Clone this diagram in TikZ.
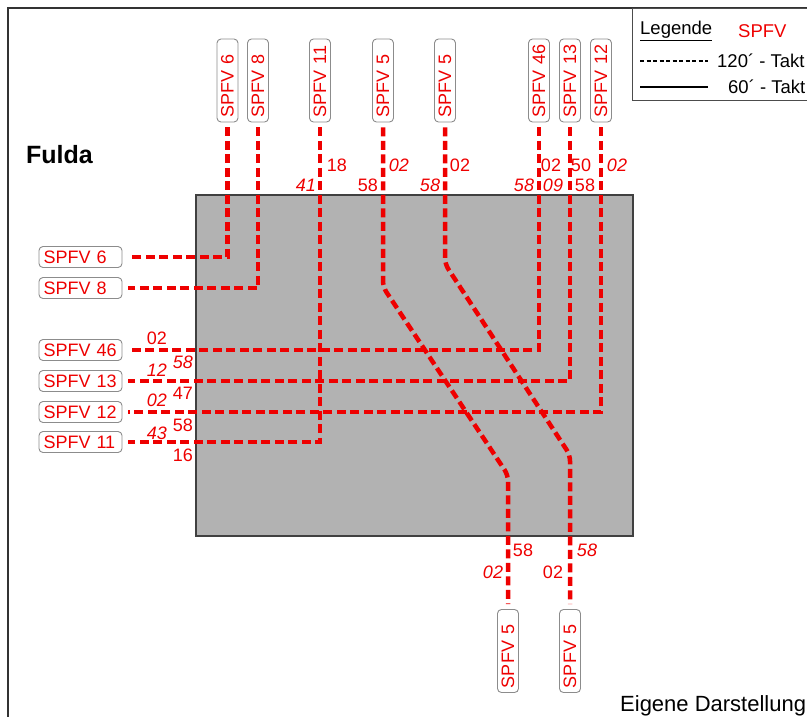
\documentclass[tikz,border=0pt]{standalone}
\usepackage{fontspec}
\setmainfont{Liberation Sans}
\definecolor{spred}{RGB}{238,0,0}
\definecolor{boxgrey}{RGB}{178,178,178}
\begin{document}
\begin{tikzpicture}[x=1pt,y=-1pt,
  lbl/.style={draw=black!45, line width=0.9pt, fill=white, rounded corners=4pt, minimum height=21pt,
    text width=74pt, inner xsep=4.5pt, inner ysep=0pt, align=left, text=spred,
    font=\fontsize{18}{18}\selectfont},
  vlbl/.style={lbl, rotate=90},
  route/.style={draw=spred, line width=4.5pt, dash pattern=on 9pt off 4.5pt},
  num/.style={text=spred, inner sep=0pt, font=\fontsize{18}{18}\selectfont},
  inum/.style={text=spred, inner sep=0pt, font=\fontsize{18}{18}\selectfont\itshape},
  ttl/.style={inner sep=0pt, anchor=west}
]
\useasboundingbox (0,0) rectangle (807,716);
% frame
\draw[line width=1.5pt, black!80] (8,8) rectangle (830,740);
% legend box
\draw[line width=1pt, black!70] (632,8) rectangle (830,100);
\node[ttl, font=\fontsize{18.5}{18.5}\selectfont] (leg) at (640,31) {\underline{Legende}};
\node[ttl, text=spred, font=\fontsize{18.5}{18.5}\selectfont] (legs) at (738,31) {SPFV};
\coordinate (d1) at (640,61); \coordinate (d2) at (708,61);
\coordinate (s1) at (640,87); \coordinate (s2) at (708,87);
\draw[line width=2pt, dash pattern=on 4pt off 2.5pt] (d1) -- (d2);
\draw[line width=2pt] (s1) -- (s2);
\node[ttl, font=\fontsize{18.5}{18.5}\selectfont] (l120) at (717,61) {120´ - Takt};
\node[ttl, font=\fontsize{18.5}{18.5}\selectfont] (l60) at (728,87) {60´ - Takt};
% Fulda
\node[ttl, font=\fontsize{25}{25}\selectfont\bfseries] (fulda) at (26,155) {Fulda};
% grey station
\draw[fill=boxgrey, draw=black!75, line width=1.2pt] (196,195) rectangle (633,536);
% top labels
\node[vlbl] (t6) at (227.5,80.5) {SPFV 6};
\node[vlbl] (t8) at (258,80.5) {SPFV 8};
\node[vlbl] (t11) at (320,80.5) {SPFV 11};
\node[vlbl] (t5a) at (383,80.5) {SPFV 5};
\node[vlbl] (t5b) at (445,80.5) {SPFV 5};
\node[vlbl] (t46) at (539,80.5) {SPFV 46};
\node[vlbl] (t13) at (570,80.5) {SPFV 13};
\node[vlbl] (t12) at (601,80.5) {SPFV 12};
% left labels
\node[lbl] (l6) at (80.5,257) {SPFV 6};
\node[lbl] (l8) at (80.5,288) {SPFV 8};
\node[lbl] (l46) at (80.5,350) {SPFV 46};
\node[lbl] (l13) at (80.5,381) {SPFV 13};
\node[lbl] (l12) at (80.5,412) {SPFV 12};
\node[lbl] (l11) at (80.5,442) {SPFV 11};
% bottom labels
\node[vlbl] (b5a) at (508,651) {SPFV 5};
\node[vlbl] (b5b) at (570,651) {SPFV 5};
% bend points
\coordinate (c1) at (383,287);
\coordinate (c2) at (508,475);
\coordinate (c3) at (445,264);
\coordinate (c4) at (570,455);
% routes
\begin{scope}[shorten <=5pt, shorten >=6pt]
\draw[route] (t6.west) |- (l6.east);
\draw[route] (t8.west) |- (l8.east);
\draw[route] (t46.west) |- (l46.east);
\draw[route] (t13.west) |- (l13.east);
\draw[route] (t12.west) |- (l12.east);
\draw[route] (t11.west) |- (l11.east);
\draw[route, rounded corners=6pt, shorten >=5pt] (t5a.west) -- (c1) -- (c2) -- (b5a.east);
\draw[route, rounded corners=6pt, shorten >=5pt] (t5b.west) -- (c3) -- (c4) -- (b5b.east);
\end{scope}
% top times
\node[num] (n1) at (337,165) {18};
\node[inum] (n2) at (306,185) {41};
\node[inum] (n3) at (399,165) {02};
\node[num] (n4) at (368,185) {58};
\node[num] (n5) at (460,165) {02};
\node[inum] (n6) at (430,185) {58};
\node[num] (n7) at (551,165) {02};
\node[inum] (n8) at (524,185) {58};
\node[num] (n9) at (581,165) {50};
\node[inum] (n10) at (553,185) {09};
\node[inum] (n11) at (617,165) {02};
\node[num] (n12) at (585,185) {58};
% left times
\node[num] (m1) at (157,338) {02};
\node[inum] (m2) at (183,362) {58};
\node[inum] (m3) at (157,370) {12};
\node[num] (m4) at (183,393) {47};
\node[inum] (m5) at (157,400) {02};
\node[num] (m6) at (183,425) {58};
\node[inum] (m7) at (157,433) {43};
\node[num] (m8) at (183,455) {16};
% bottom times
\node[num] (k1) at (523,550) {58};
\node[inum] (k2) at (493,572) {02};
\node[inum] (k3) at (587,550) {58};
\node[num] (k4) at (553,572) {02};
% source
\node[ttl, font=\fontsize{22}{22}\selectfont] (src) at (620,706) {Eigene Darstellung};
\end{tikzpicture}
\end{document}
